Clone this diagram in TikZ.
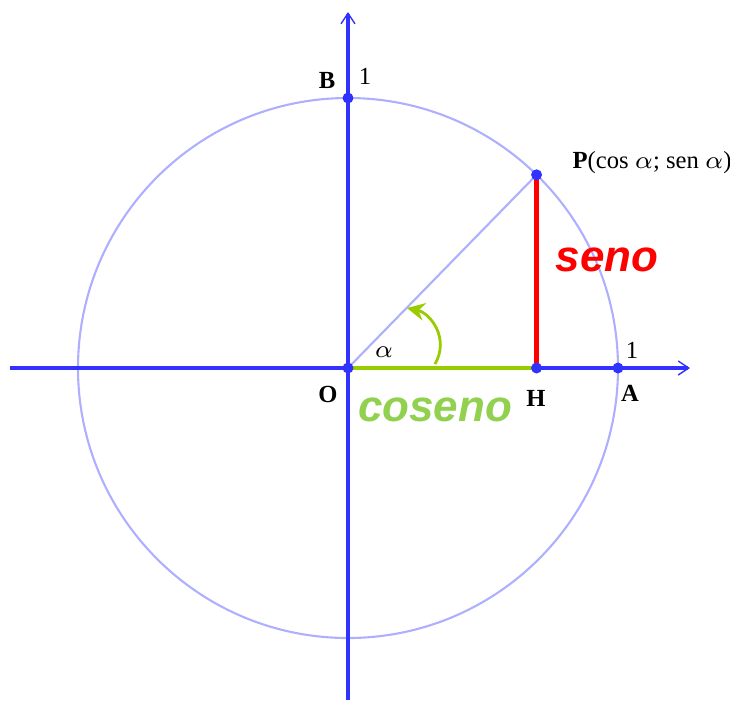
\documentclass[tikz,border=0pt]{standalone}
\usepackage{fontspec}
\usepackage{xcolor}
\usetikzlibrary{calc,arrows.meta}
\newfontfamily\labelfont{Liberation Serif}
\newfontfamily\namefont{Liberation Sans}
\definecolor{axisblue}{RGB}{50, 50, 255}
\definecolor{circleblue}{RGB}{175, 175, 255}
\definecolor{sinred}{RGB}{255, 0, 0}
\definecolor{cosgreen}{RGB}{153, 204, 0}
\definecolor{costext}{RGB}{146, 208, 80}
\tikzset{
    axis/.style={axisblue, line width=0.9pt, -{Straight Barb[length=3pt, width=4pt, line width=0.4pt]}},
    dot/.style={axisblue},
    ptlabel/.style={font=\labelfont\fontsize{7}{8}\selectfont\bfseries, inner sep=0pt},
    numlabel/.style={font=\labelfont\fontsize{7}{8}\selectfont, inner sep=0pt},
    bigname/.style={font=\namefont\fontsize{12.5}{14}\selectfont\bfseries\itshape, inner sep=0pt}
}

\begin{document}
\begin{tikzpicture}
    \useasboundingbox (-3.48,-3.32) rectangle (3.82,3.68);
    % Origin and axis ends
    \coordinate (O) at (0,0);
    \coordinate (Xl) at (-3.38,0);
    \coordinate (Xr) at (3.42,0);
    \coordinate (Yb) at (0,-3.32);
    \coordinate (Yt) at (0,3.56);

    % Unit circle
    \draw[circleblue, line width=0.6pt] (O) circle (2.7);

    % Points on the circle
    \coordinate (A) at (2.7,0);
    \coordinate (B) at (0,2.7);
    \coordinate (P) at (45.7:2.7);
    \coordinate (H) at (P |- O);

    % Radius OP
    \draw[circleblue, line width=0.6pt] (O) -- (P);

    % Axes
    \draw[axis] (Xl) -- (Xr);
    \draw[axis] (Yb) -- (Yt);

    % Sine and cosine segments
    \draw[sinred, line width=1.2pt] (H) -- (P);
    \draw[cosgreen, line width=1.2pt] (O) -- (H);

    % Angle arrow
    \coordinate (a0) at (0.87,0.04);
    \coordinate (a1) at (0.59,0.60);
    \draw[cosgreen, line width=0.8pt, -{Stealth[length=5pt, width=5pt]}] (a0) .. controls (1.02,0.30) and (0.82,0.55) .. (a1);

    % Point nodes
    \foreach \pt in {O,A,B,P,H}
        \fill[dot] (\pt) circle (0.055);

    % Labels
    \node[ptlabel] (lB) at (-0.21,2.88) {B};
    \node[numlabel] (lB1) at (0.17,2.92) {1};
    \node[ptlabel] (lO) at (-0.20,-0.26) {O};
    \node[ptlabel] (lH) at (1.88,-0.30) {H};
    \node[ptlabel] (lA) at (2.82,-0.25) {A};
    \node[numlabel] (lA1) at (2.84,0.18) {1};
    \node[numlabel] (lalpha) at (0.36,0.16) {$\alpha$};
    \node[numlabel, anchor=west] (lP) at (2.24,2.05) {\textbf{P}(cos $\alpha$; sen $\alpha$)};

    % Names of the segments
    \node[bigname, sinred] (seno) at (2.59,1.08) {seno};
    \node[bigname, costext] (coseno) at (0.87,-0.42) {coseno};
\end{tikzpicture}
\end{document}
